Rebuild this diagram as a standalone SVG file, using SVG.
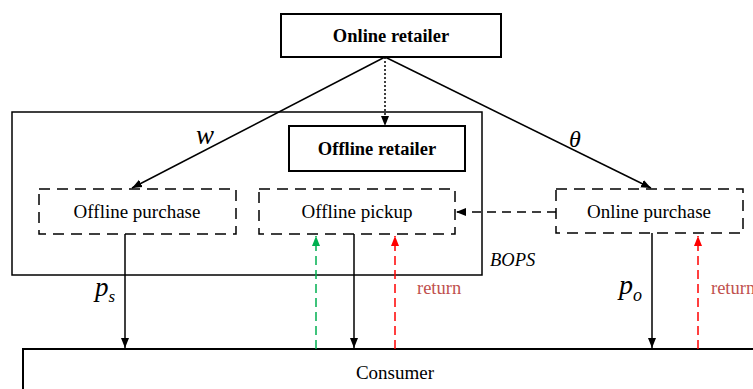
<svg xmlns="http://www.w3.org/2000/svg" width="753" height="389" viewBox="0 0 753 389">
  <style>
    text { font-family: "Liberation Serif", "Times New Roman", serif; fill: #000; }
    .solid { fill: #fff; stroke: #000; stroke-width: 2; }
    .dash { fill: #fff; stroke: #000; stroke-width: 1.5; stroke-dasharray: 11 7; }
    .lbl { font-size: 19px; text-anchor: middle; }
    .bold { font-size: 18.5px; font-weight: bold; text-anchor: middle; }
    .ln { stroke: #000; stroke-width: 1.5; fill: none; }
    .it { font-style: italic; }
    .ret { font-size: 18.5px; fill: #c0504d; }
  </style>
  <defs>
    <marker id="ah" viewBox="0 0 10 10" refX="10" refY="5" markerWidth="10" markerHeight="10" markerUnits="userSpaceOnUse" orient="auto">
      <path d="M0,1 L10,5 L0,9 Z" fill="#000"/>
    </marker>
    <marker id="ahg" viewBox="0 0 10 10" refX="10" refY="5" markerWidth="10" markerHeight="10" markerUnits="userSpaceOnUse" orient="auto">
      <path d="M0,1 L10,5 L0,9 Z" fill="#00b050"/>
    </marker>
    <marker id="ahr" viewBox="0 0 10 10" refX="10" refY="5" markerWidth="10" markerHeight="10" markerUnits="userSpaceOnUse" orient="auto">
      <path d="M0,1 L10,5 L0,9 Z" fill="#ff0000"/>
    </marker>
  </defs>

  <!-- offline channel container -->
  <g id="offline-channel">
    <rect x="12" y="112" width="470" height="163" fill="none" stroke="#000" stroke-width="1.5"/>
  </g>

  <g id="online-retailer">
    <rect class="solid" x="281" y="14" width="220" height="43"/>
    <text class="bold" x="391" y="42">Online retailer</text>
  </g>

  <g id="offline-retailer">
    <rect class="solid" x="289" y="126" width="176" height="45"/>
    <text class="bold" x="377" y="155">Offline retailer</text>
  </g>

  <g id="offline-purchase">
    <rect class="dash" x="39" y="189" width="197" height="45"/>
    <text class="lbl" x="137" y="218">Offline purchase</text>
  </g>

  <g id="offline-pickup">
    <rect class="dash" x="259" y="189" width="196" height="45"/>
    <text class="lbl" x="357" y="218">Offline pickup</text>
  </g>

  <g id="online-purchase">
    <rect class="dash" x="556" y="189" width="187" height="44" stroke-dasharray="19 9"/>
    <text class="lbl" x="649" y="218">Online purchase</text>
  </g>

  <g id="consumer">
    <rect x="23" y="349" width="740" height="60" fill="#fff" stroke="#000" stroke-width="2"/>
    <text class="lbl" x="395" y="379">Consumer</text>
  </g>

  <g id="connectors">
    <line class="ln" x1="385" y1="57" x2="132" y2="188" marker-end="url(#ah)"/>
    <line class="ln" x1="385" y1="57" x2="651" y2="188" marker-end="url(#ah)"/>
    <line class="ln" x1="385" y1="57" x2="385" y2="126" stroke-dasharray="2 2" marker-end="url(#ah)"/>
    <line class="ln" x1="556" y1="212" x2="456" y2="212" stroke-dasharray="9 6" marker-end="url(#ah)"/>
    <line class="ln" x1="125" y1="234" x2="125" y2="348" marker-end="url(#ah)"/>
    <line class="ln" x1="354" y1="234" x2="354" y2="348" marker-end="url(#ah)"/>
    <line class="ln" x1="652" y1="233" x2="652" y2="348" marker-end="url(#ah)"/>
    <line x1="316" y1="349" x2="316" y2="236" stroke="#00b050" stroke-width="1.5" stroke-dasharray="9 5" marker-end="url(#ahg)"/>
    <line x1="395" y1="349" x2="395" y2="236" stroke="#ff0000" stroke-width="1.5" stroke-dasharray="9 5" marker-end="url(#ahr)"/>
    <line x1="698" y1="349" x2="698" y2="236" stroke="#ff0000" stroke-width="1.5" stroke-dasharray="9 5" marker-end="url(#ahr)"/>

    <text class="it" x="196" y="144" font-size="27">w</text>
    <text class="it" x="569" y="147" font-size="24">θ</text>
    <text class="it" x="490" y="266" font-size="18.5">BOPS</text>
    <text class="it" x="95" y="296" font-size="27">p<tspan font-size="17" dy="6">s</tspan></text>
    <text class="it" x="619" y="294" font-size="28">p<tspan font-size="18" dy="7">o</tspan></text>
    <text class="ret" x="417" y="294">return</text>
    <text class="ret" x="711" y="294">return</text>
  </g>
</svg>
